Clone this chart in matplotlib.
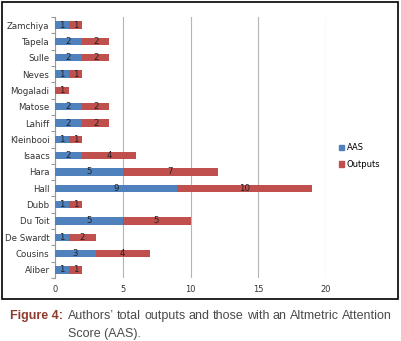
import matplotlib
matplotlib.use("Agg")
import matplotlib.pyplot as plt
import matplotlib.patches as mpatches
from matplotlib import font_manager
import numpy as np

authors = ["Aliber", "Cousins", "De Swardt", "Du Toit", "Dubb", "Hall", "Hara",
           "Isaacs", "Kleinbooi", "Lahiff", "Matose", "Mogaladi", "Neves",
           "Sulle", "Tapela", "Zamchiya"]
aas = [1, 3, 1, 5, 1, 9, 5, 2, 1, 2, 2, 0, 1, 2, 2, 1]
outputs = [1, 4, 2, 5, 1, 10, 7, 4, 1, 2, 2, 1, 1, 2, 2, 1]
x_ticks = [0, 5, 10, 15, 20]

blue = "#4F81BD"
red = "#C0504D"

installed = {f.name for f in font_manager.fontManager.ttflist}
cap_family = "Liberation Sans Narrow" if "Liberation Sans Narrow" in installed else "Liberation Sans"

plt.rcParams["font.family"] = ["DejaVu Sans"]

fig = plt.figure(figsize=(4.01, 3.41), dpi=100)
ax = fig.add_axes([55 / 401, 63 / 341, 271 / 401, 261 / 341])

y = np.arange(len(authors))
h = 0.45
b1 = ax.barh(y, aas, height=h, color=blue, label="AAS", zorder=3)
b2 = ax.barh(y, outputs, height=h, left=aas, color=red, label="Outputs", zorder=3)

for rects, vals in [(b1, aas), (b2, outputs)]:
    for r, v in zip(rects, vals):
        if v == 0:
            continue
        ax.text(r.get_x() + r.get_width() / 2, r.get_y() + r.get_height() / 2,
                str(v), ha="center", va="center", fontsize=6.2, color="#222222",
                zorder=4)

ax.set_xlim(0, 20)
ax.set_ylim(-0.5, len(authors) - 0.5)
ax.set_xticks(x_ticks)
ax.set_xticklabels([str(t) for t in x_ticks], fontsize=6, color="#333333")
ax.set_yticks(y)
ax.set_yticklabels(authors, fontsize=6.2, color="#333333")
ax.set_yticks(np.arange(-0.5, len(authors)), minor=True)
ax.tick_params(axis="y", which="major", length=0, pad=4)
ax.tick_params(axis="y", which="minor", length=3, color="#999999", width=0.8)
ax.tick_params(axis="x", length=0, pad=5)
ax.grid(axis="x", color="#B5B5B5", linewidth=0.8, zorder=0)
for s in ["top", "right", "bottom"]:
    ax.spines[s].set_visible(False)
ax.spines["left"].set_color("#999999")
ax.spines["left"].set_linewidth(0.8)

handles = [mpatches.Patch(color=blue, label="AAS"),
           mpatches.Patch(color=red, label="Outputs")]
fig.legend(handles=handles, loc="upper left", bbox_to_anchor=(336 / 401, 1 - 140 / 341),
           frameon=False, fontsize=6, handlelength=0.6, handleheight=0.6,
           handletextpad=0.3, labelspacing=0.9, borderaxespad=0)

# outer frame
frame = mpatches.Rectangle((2 / 401, 1 - 299 / 341), 396 / 401, 297 / 341,
                           transform=fig.transFigure, fill=False,
                           edgecolor="black", linewidth=1.2)
fig.patches.append(frame)

# caption
fs = 9
base1 = 1 - 319 / 341
base2 = 1 - 337 / 341
fig.text(10 / 401, base1, "Figure 4:", fontsize=fs, fontweight="bold",
         color="#8E3B2E", va="baseline", family=cap_family)

# first caption line is justified between x=68 and x=392 px
words = "Authors\u2019 total outputs and those with an Altmetric Attention".split()
renderer = fig.canvas.get_renderer()
items = [fig.text(0, base1, w, fontsize=fs, color="#4A4A4A", va="baseline",
                  family=cap_family) for w in words]
widths = [t.get_window_extent(renderer).width for t in items]
gap = (392 - 68 - sum(widths)) / (len(words) - 1)
xpos = 68
for t, w in zip(items, widths):
    t.set_x(xpos / 401)
    xpos += w + gap
fig.text(68 / 401, base2, "Score (AAS).", fontsize=fs,
         color="#4A4A4A", va="baseline", family=cap_family)

fig.savefig("out.png", dpi=100)
